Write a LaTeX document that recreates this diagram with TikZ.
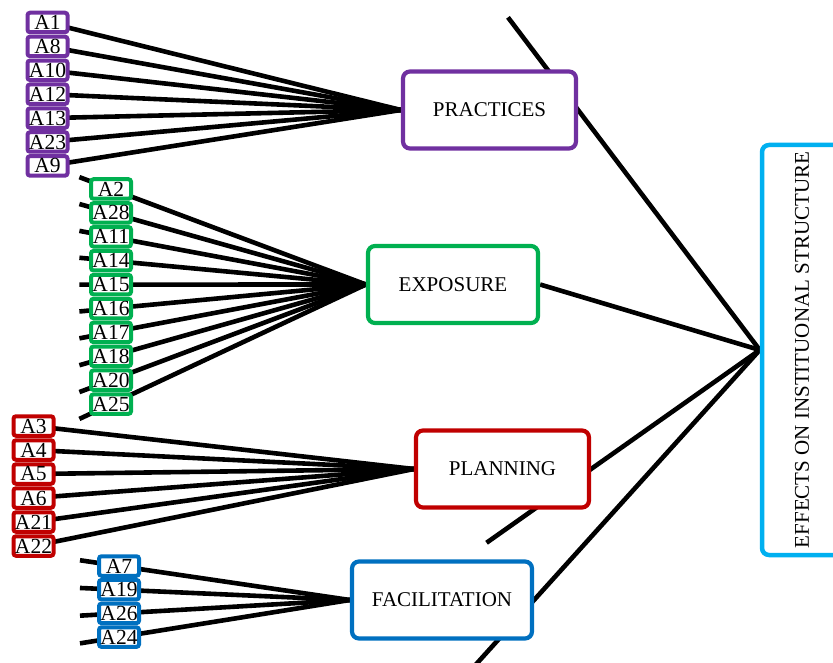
\documentclass[tikz,border=0pt]{standalone}
\usepackage{fontspec}
\setmainfont{Liberation Serif}
\usetikzlibrary{calc,backgrounds}
\definecolor{practicescol}{HTML}{7030A0}
\definecolor{exposurecol}{HTML}{00B050}
\definecolor{planningcol}{HTML}{C00000}
\definecolor{facilcol}{HTML}{0070C0}
\definecolor{effectcol}{HTML}{00B0F0}

\begin{document}
\begin{tikzpicture}[x=1pt,y=-1pt,
    abox/.style={fill=white,line width=4pt,rounded corners=2.5pt,
        minimum width=40pt,minimum height=19.5pt,inner sep=0pt,
        font=\fontsize{21.5}{20}\selectfont},
    cat/.style={fill=white,line width=4.2pt,rounded corners=7pt,
        minimum width=173pt,minimum height=77pt,inner sep=0pt,
        font=\fontsize{21}{21}\selectfont},
    link/.style={line width=4.6pt}]
    \useasboundingbox (0,0) rectangle (833,663);

    % main boxes
    \node[cat,draw=practicescol] (P) at (489.5,110) {PRACTICES};
    \node[cat,draw=exposurecol,minimum width=170pt] (E) at (453,284.5) {EXPOSURE};
    \node[cat,draw=planningcol] (PL) at (502.5,469) {PLANNING};
    \node[cat,draw=facilcol,minimum width=180pt] (F) at (442,600) {FACILITATION};
    \node[cat,draw=effectcol,line width=4.5pt,minimum width=80pt,minimum height=410pt]
        (EIS) at (802,350) {\rotatebox{90}{EFFECTS ON INSTITUONAL STRUCTURE}\hspace{10pt}};

    % items
    \foreach \n [count=\i from 0] in {A1,A8,A10,A12,A13,A23,A9}
        \node[abox,draw=practicescol] (\n) at (47.5,22.5+23.9*\i) {\n};
    \foreach \n [count=\i from 0] in {A2,A28,A11,A14,A15,A16,A17,A18,A20,A25}
        \node[abox,draw=exposurecol] (\n) at (111,189+23.9*\i) {\n};
    \foreach \n [count=\i from 0] in {A3,A4,A5,A6,A21,A22}
        \node[abox,draw=planningcol] (\n) at (33.5,426+24*\i) {\n};
    \foreach \n [count=\i from 0] in {A7,A19,A26,A24}
        \node[abox,draw=facilcol] (\n) at (119,566+23.7*\i) {\n};

    \begin{pgfonlayer}{background}
        \foreach \n in {A1,A8,A10,A12,A13,A23,A9}
            \draw[link] (\n.center) -- (P.west);
        \foreach \n in {A2,A28,A11,A14,A15,A16,A17,A18,A20,A25}
            \draw[link] ($(E.west)!1.124!(\n.center)$) -- (E.west);
        \foreach \n in {A3,A4,A5,A6,A21,A22}
            \draw[link] (\n.center) -- (PL.west);
        \foreach \n in {A7,A19,A26,A24}
            \draw[link] ($(F.west)!1.169!(\n.center)$) -- (F.west);
        % bones to the head
        \draw[link] (EIS.west) -- ($(EIS.west)!1.386!(P.east)$);
        \draw[link] (EIS.west) -- (E.east);
        \draw[link] (EIS.west) -- ($(EIS.west)!1.62!(PL.east)$);
        \draw[link] (EIS.west) -- ($(EIS.west)!1.272!(F.east)$);
    \end{pgfonlayer}
\end{tikzpicture}
\end{document}
